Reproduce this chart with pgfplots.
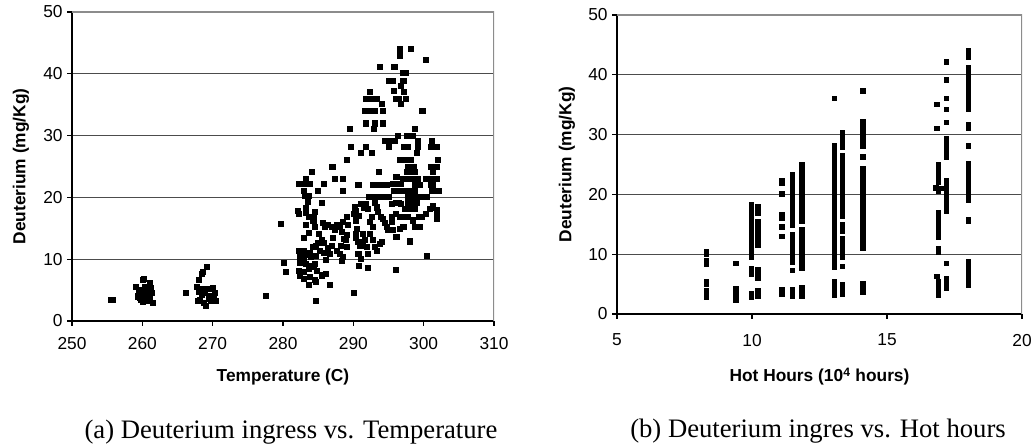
\documentclass[border=0pt]{standalone}
\usepackage{pgfplots}
\pgfplotsset{compat=1.18}
\usepackage{fontspec}
\setmainfont{Liberation Sans}
\newfontfamily\capfont{Liberation Serif}

\pgfplotstableread{
x y
255.5 3.4
255.8 3.4
259.0 5.6
259.5 4.5
259.8 3.5
260.0 6.6
260.2 6.8
260.4 5.5
260.0 4.2
260.5 3.8
260.8 3.2
261.0 6.2
261.2 5.4
261.4 4.5
261.5 3.0
259.6 3.8
260.1 3.1
259.4 4.0
260.6 4.8
261.0 4.0
259.8 5.1
260.3 4.6
266.2 4.5
267.8 5.6
268.0 6.6
268.4 7.6
268.6 8.0
269.2 8.7
268.0 4.7
268.2 3.5
268.5 4.2
268.8 3.0
269.0 2.4
269.2 5.2
269.5 4.0
269.8 3.3
270.0 5.3
270.3 4.5
270.4 3.2
268.6 5.2
269.4 3.6
270.1 3.8
268.9 4.6
267.9 3.3
277.6 4.1
279.7 15.8
280.1 9.4
280.4 7.9
282.1 17.8
282.2 17.4
282.2 22.2
282.6 22.2
282.9 22.2
283.2 23.0
283.6 22.2
283.8 22.2
284.1 24.1
282.9 21.0
283.1 20.2
283.6 20.2
283.5 19.3
283.2 18.3
283.3 17.5
283.7 16.8
283.2 15.6
283.6 14.3
284.3 16.2
284.5 15.2
282.9 13.4
282.2 11.4
282.6 11.2
283.0 11.4
283.8 11.0
284.3 12.0
284.7 12.2
285.0 12.6
282.4 10.4
282.9 9.8
283.3 10.8
284.0 10.4
284.7 10.6
282.4 9.5
283.3 9.3
284.0 9.0
284.5 9.3
282.2 8.2
282.9 7.9
283.6 8.5
284.3 8.7
284.8 8.2
282.4 7.4
283.0 6.8
283.8 7.1
284.5 6.6
285.5 7.4
286.1 7.7
283.7 5.8
284.7 6.3
284.7 3.3
286.6 5.8
284.9 21.1
285.5 19.1
285.8 22.2
284.5 17.7
284.3 16.8
285.6 15.9
285.9 15.2
286.4 15.6
285.1 14.1
285.5 13.1
285.8 12.7
285.2 11.4
285.8 11.0
286.4 11.9
286.7 10.9
286.1 9.9
286.9 12.2
287.1 13.5
287.4 14.7
287.0 15.2
287.6 15.5
288.1 15.2
288.3 14.4
288.5 16.0
289.0 16.8
289.2 15.6
288.7 13.3
288.2 12.2
287.7 11.4
288.1 10.9
288.3 9.8
288.5 10.4
287.0 25.0
287.3 23.0
288.5 23.0
288.5 21.0
289.1 26.1
289.5 31.1
289.7 28.2
289.1 14.0
288.9 13.1
289.1 12.0
290.1 4.5
290.0 17.4
290.2 18.4
290.4 17.8
290.7 17.1
290.3 16.3
290.5 14.9
290.3 14.1
290.4 13.5
290.7 12.8
290.9 12.1
290.7 10.9
291.0 10.1
290.8 9.0
290.7 22.1
291.1 27.2
291.8 28.2
291.1 19.0
291.5 18.4
291.8 19.0
292.0 18.2
291.4 14.1
291.6 13.1
291.4 12.2
291.9 12.0
292.1 10.9
292.0 8.6
291.6 34.0
292.1 34.0
292.6 34.0
293.0 34.0
291.8 36.0
292.2 36.0
292.8 36.0
293.3 36.0
292.3 37.1
291.8 32.0
293.0 32.0
292.9 31.1
294.2 32.0
294.2 34.0
294.0 35.1
293.7 41.1
295.9 41.1
292.6 27.2
292.2 20.1
292.7 20.1
293.1 20.1
293.6 20.1
294.0 20.1
294.7 20.1
295.1 20.1
292.7 22.1
293.6 22.1
294.2 22.1
294.7 22.1
293.6 24.1
293.0 19.1
293.3 18.4
293.5 17.6
293.9 16.9
294.2 16.6
294.5 15.9
294.7 15.2
294.9 14.7
292.6 16.8
292.4 16.0
292.8 15.2
292.3 14.1
292.7 13.1
293.0 12.0
293.3 11.4
293.7 12.5
294.1 12.8
294.5 29.2
295.1 29.2
295.9 29.2
295.1 28.2
295.6 22.2
296.1 23.3
296.3 22.2
295.8 21.0
296.5 21.0
296.8 22.2
295.4 18.9
296.0 19.1
296.4 19.1
296.8 19.0
295.5 16.9
296.0 17.4
295.4 16.0
295.6 14.7
296.1 13.6
296.6 14.9
296.0 8.3
295.1 38.9
295.6 38.9
295.8 37.3
296.0 36.0
296.4 36.0
295.8 41.1
296.6 44.1
298.1 44.1
296.6 43.0
297.1 40.1
297.4 40.1
297.1 38.9
296.8 38.1
297.2 37.1
297.5 36.0
296.8 35.1
296.3 30.0
300.3 42.2
299.8 34.0
297.2 28.2
297.7 28.2
297.6 30.0
298.1 30.0
298.5 30.0
298.7 31.1
299.2 29.2
299.2 28.2
299.0 27.2
296.6 26.1
297.3 26.1
297.8 26.1
298.2 26.1
297.7 25.0
298.1 25.0
298.6 25.0
297.6 24.1
298.1 24.1
298.7 24.1
297.1 23.0
297.8 23.0
298.5 23.0
299.2 23.0
300.3 23.0
300.9 23.0
301.3 23.0
301.9 23.0
297.3 21.0
298.1 21.0
298.7 21.0
297.8 20.1
298.5 20.1
299.2 20.1
299.7 20.1
300.4 20.1
301.0 22.1
301.3 22.1
301.1 21.0
301.6 21.0
302.2 21.0
297.8 19.1
298.4 19.1
299.0 19.1
297.3 18.2
298.0 18.2
298.7 18.2
297.8 16.8
298.5 16.3
299.3 16.8
299.7 16.8
300.3 17.4
300.9 18.2
301.3 18.7
301.9 18.0
301.9 17.4
301.9 16.6
301.3 18.4
297.1 15.2
298.7 15.3
299.0 15.2
299.5 15.2
298.0 12.9
300.5 10.5
301.0 25.0
301.3 24.1
301.9 25.0
302.0 26.1
301.0 28.2
301.3 28.2
301.8 28.2
301.1 29.2
298.7 22.0
299.4 22.0
297.1 16.8
296.6 16.8
}\tempdata

\pgfplotstableread{
x y
8.3 10.4
8.3 10.0
8.3 8.9
8.3 8.4
8.3 5.5
8.3 5.0
8.3 4.0
8.3 3.4
8.3 2.9
9.4 8.5
9.4 4.3
9.4 3.6
9.4 2.9
9.4 2.4
9.97 18.3
9.97 17.7
9.97 17.0
9.97 16.4
9.97 15.8
9.97 15.1
9.97 14.5
9.97 13.9
9.97 13.3
9.97 12.6
9.97 12.0
9.97 11.4
9.97 10.7
9.97 10.1
9.97 9.5
9.97 7.6
9.97 7.0
9.97 6.6
9.97 3.5
9.97 3.1
9.97 2.9
10.22 18.0
10.22 17.4
10.22 16.8
10.22 15.4
10.22 14.9
10.22 14.3
10.22 13.4
10.22 12.8
10.22 12.2
10.22 11.5
10.22 7.5
10.22 7.0
10.22 6.4
10.22 6.0
10.22 3.9
10.22 3.4
10.22 3.0
11.1 22.3
11.1 21.9
11.1 20.1
11.1 16.6
11.1 16.0
11.1 14.6
11.1 13.0
11.1 4.1
11.1 3.6
11.1 3.4
11.5 23.3
11.5 22.7
11.5 22.1
11.5 21.5
11.5 20.9
11.5 20.3
11.5 19.7
11.5 19.1
11.5 18.5
11.5 17.9
11.5 17.3
11.5 16.7
11.5 16.1
11.5 15.5
11.5 14.9
11.5 13.3
11.5 12.7
11.5 12.1
11.5 11.5
11.5 10.9
11.5 10.3
11.5 9.7
11.5 9.1
11.5 8.7
11.5 7.3
11.5 4.1
11.5 3.7
11.5 3.3
11.5 3.0
11.85 25.0
11.85 24.5
11.85 23.9
11.85 23.3
11.85 22.7
11.85 22.1
11.85 21.5
11.85 20.9
11.85 20.3
11.85 19.7
11.85 19.1
11.85 18.5
11.85 17.9
11.85 17.3
11.85 16.7
11.85 16.1
11.85 15.5
11.85 14.1
11.85 13.5
11.85 12.9
11.85 12.3
11.85 11.7
11.85 11.1
11.85 10.5
11.85 9.9
11.85 9.3
11.85 8.7
11.85 8.1
11.85 7.6
11.85 4.4
11.85 4.0
11.85 3.6
11.85 3.2
11.85 3.0
13.05 36.1
13.05 28.2
13.05 27.6
13.05 27.0
13.05 26.4
13.05 25.8
13.05 25.2
13.05 24.6
13.05 24.0
13.05 23.4
13.05 22.8
13.05 22.2
13.05 21.6
13.05 21.0
13.05 20.4
13.05 19.8
13.05 19.2
13.05 18.6
13.05 18.0
13.05 17.4
13.05 16.8
13.05 16.2
13.05 15.6
13.05 15.0
13.05 14.4
13.05 13.8
13.05 13.2
13.05 12.6
13.05 12.0
13.05 11.4
13.05 10.8
13.05 10.2
13.05 9.6
13.05 9.0
13.05 8.4
13.05 7.8
13.05 5.5
13.05 5.0
13.05 4.6
13.05 4.2
13.05 3.8
13.05 3.4
13.05 3.1
13.35 30.3
13.35 29.7
13.35 29.1
13.35 28.5
13.35 27.9
13.35 26.5
13.35 25.9
13.35 25.3
13.35 24.7
13.35 24.1
13.35 23.5
13.35 22.9
13.35 22.3
13.35 21.7
13.35 21.1
13.35 20.5
13.35 19.9
13.35 19.3
13.35 18.7
13.35 18.1
13.35 17.5
13.35 16.9
13.35 16.3
13.35 15.0
13.35 14.4
13.35 13.8
13.35 12.6
13.35 12.0
13.35 11.4
13.35 10.8
13.35 10.2
13.35 9.6
13.35 8.0
13.35 4.9
13.35 4.5
13.35 4.1
13.35 3.7
13.35 3.3
14.1 37.3
14.1 32.2
14.1 31.6
14.1 31.0
14.1 30.4
14.1 29.8
14.1 29.2
14.1 28.6
14.1 28.0
14.1 26.3
14.1 24.3
14.1 23.7
14.1 23.1
14.1 22.5
14.1 21.9
14.1 21.3
14.1 20.7
14.1 20.1
14.1 19.5
14.1 18.9
14.1 18.3
14.1 17.7
14.1 17.1
14.1 16.5
14.1 15.9
14.1 15.3
14.1 14.7
14.1 14.1
14.1 13.5
14.1 12.9
14.1 12.3
14.1 11.7
14.1 11.1
14.1 5.1
14.1 4.7
14.1 4.3
14.1 3.9
14.1 3.6
16.85 35.1
16.85 31.1
16.9 25.0
16.9 24.4
16.9 23.8
16.9 23.2
16.9 22.6
16.9 22.0
16.9 21.0
16.9 20.5
16.8 21.1
17.0 21.0
16.9 17.0
16.9 16.4
16.9 15.8
16.9 15.2
16.9 14.6
16.9 14.0
16.9 13.4
16.9 12.8
16.9 11.0
16.9 10.4
16.85 6.3
16.9 5.5
16.9 5.0
16.9 4.5
16.9 4.0
16.9 3.5
16.9 3.1
17.2 42.2
17.2 39.2
17.2 36.1
17.2 34.2
17.2 32.1
17.2 29.3
17.2 28.7
17.2 28.1
17.2 27.5
17.2 26.9
17.2 26.3
17.2 22.3
17.2 21.7
17.2 21.1
17.2 20.5
17.2 19.9
17.2 19.3
17.2 18.7
17.2 18.1
17.2 17.5
17.2 17.2
17.2 8.5
17.2 5.9
17.2 5.4
17.2 4.9
17.2 4.4
18.0 44.1
18.0 43.6
18.0 43.0
18.0 41.2
18.0 40.2
18.0 39.6
18.0 39.0
18.0 38.4
18.0 37.8
18.0 37.2
18.0 36.6
18.0 36.0
18.0 35.4
18.0 34.8
18.0 34.2
18.0 31.7
18.0 31.1
18.0 28.1
18.0 25.1
18.0 24.5
18.0 23.9
18.0 23.3
18.0 22.7
18.0 22.1
18.0 21.5
18.0 20.9
18.0 20.3
18.0 19.7
18.0 19.1
18.0 15.8
18.0 15.5
18.0 8.8
18.0 8.2
18.0 7.6
18.0 7.0
18.0 6.4
18.0 5.8
18.0 5.3
18.0 4.8
}\hotdata

\pgfplotsset{
  excelstyle/.style={
    scale only axis,
    axis x line*=bottom,
    axis y line*=left,
    axis line style={-, black, line width=0.8pt},
    tick align=outside,
    major tick length=3.5pt,
    every tick/.style={black, line width=0.8pt},
    ymin=0, ymax=50,
    ytick={0,10,20,30,40,50},
    ymajorgrids,
    grid style={black!70, line width=0.6pt},
    ticklabel style={font=\fontsize{13}{14}\selectfont},
    /pgf/number format/assume math mode=true,
    label style={font=\bfseries\fontsize{13}{15}\selectfont},
    ylabel style={at={(axis description cs:0,0.5)}, anchor=center},
    xlabel style={at={(axis description cs:0.5,0)}, anchor=center},
  }
}

\begin{document}
\begin{tikzpicture}
\path[use as bounding box] (0,0) rectangle (775.5pt,336pt);

\begin{axis}[excelstyle,
  at={(54pt,95.25pt)}, anchor=south west,
  width=316.5pt, height=231.75pt,
  xmin=250, xmax=310, xtick={250,260,270,280,290,300,310},
  xticklabel style={yshift=-5pt},
  xlabel={Temperature (C)}, ylabel={Deuterium (mg/Kg)},
  xlabel style={yshift=-42pt},
  ylabel style={yshift=38.25pt},
]
\draw[black!45, line width=0.8pt] (rel axis cs:0,1) -- (rel axis cs:1,1) -- (rel axis cs:1,0);
\addplot[only marks, mark=square*, mark size=1.9pt, black] table[x=x,y=y] {\tempdata};
\end{axis}

\begin{axis}[excelstyle,
  at={(462.75pt,100.5pt)}, anchor=south west,
  width=303.75pt, height=224.25pt,
  xmin=5, xmax=20, xtick={5,10,15,20},
  xticklabel style={yshift=-8pt},
  xlabel={Hot Hours (10\textsuperscript{4} hours)}, ylabel={Deuterium (mg/Kg)},
  xlabel style={yshift=-47pt},
  ylabel style={yshift=37.5pt},
]
\draw[black!45, line width=0.8pt] (rel axis cs:0,1) -- (rel axis cs:1,1) -- (rel axis cs:1,0);
\addplot[only marks, mark=square*, mark size=1.65pt, black] table[x=x,y=y] {\hotdata};
\end{axis}

\node[font=\capfont\fontsize{20}{24}\selectfont] at (218.25pt,12pt) {(a) Deuterium ingress vs. Temperature};
\node[font=\capfont\fontsize{20}{24}\selectfont] at (613.5pt,13pt) {(b) Deuterium ingres vs. Hot hours};
\end{tikzpicture}
\end{document}
